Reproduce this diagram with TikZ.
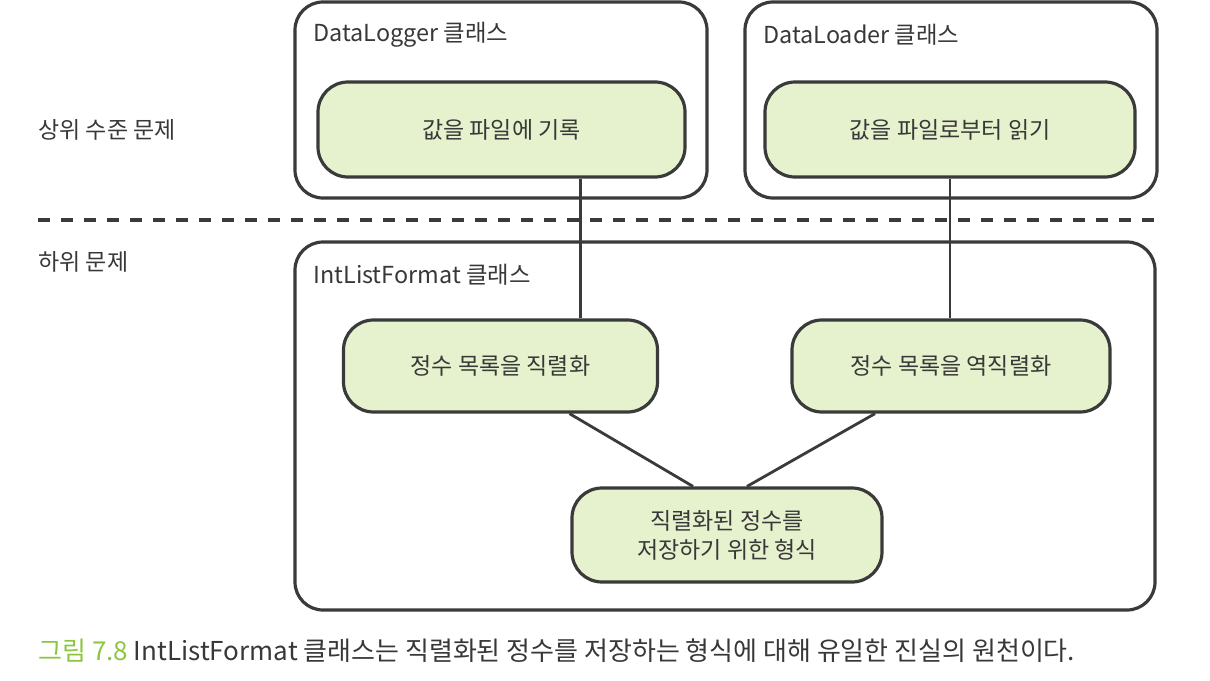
\documentclass[tikz,border=0pt]{standalone}
\usepackage{fontspec}
\setmainfont{Noto Sans CJK KR}
\usetikzlibrary{positioning}

\definecolor{linegray}{HTML}{3A3A3A}
\definecolor{textgray}{HTML}{383838}
\definecolor{boxgreen}{HTML}{E6F2CD}
\definecolor{capgreen}{HTML}{8CC63F}

\tikzset{
  classbox/.style={draw=linegray, line width=1.6pt, rounded corners=14pt},
  taskbox/.style={draw=linegray, line width=1.6pt, rounded corners=15pt, fill=boxgreen,
    text=textgray, align=center, font=\fontsize{11.5}{14.5}\selectfont},
  title/.style={anchor=west, text=textgray, font=\fontsize{11.7}{14}\selectfont, inner sep=0pt},
  link/.style={draw=linegray, line width=1.4pt}
}

\begin{document}
\begin{tikzpicture}[x=0.5pt, y=-0.5pt]

        \useasboundingbox (0,0) rectangle (1210,680);

        \begin{scope}[every node/.style={classbox}]
          \node[minimum width=206pt, minimum height=98pt]  (logger)  at (501,100) {};
          \node[minimum width=206pt, minimum height=98pt]  (loader)  at (951,100) {};
          \node[minimum width=430pt, minimum height=184pt] (intlist) at (725,426) {};
        \end{scope}

        \begin{scope}[every node/.style={taskbox}]
          \node[minimum width=183.5pt, minimum height=47.5pt] (write) at (501.5,129.5) {값을 파일에 기록};
          \node[minimum width=185pt, minimum height=47.5pt]   (read)  at (950,129.5)   {값을 파일로부터 읽기};
          \node[minimum width=157pt, minimum height=46pt]     (ser)   at (500.5,366)   {정수 목록을 직렬화};
          \node[minimum width=159pt, minimum height=46pt]     (deser) at (951,366)     {정수 목록을 역직렬화};
          \node[minimum width=155pt, minimum height=47pt]     (fmt)   at (727,535)     {직렬화된 정수를\\저장하기 위한 형식};
        \end{scope}

        \begin{scope}[every node/.style={title}]
          \node (loggertitle)  at (313,35)  {DataLogger 클래스};
          \node (loadertitle)  at (763,35)  {DataLoader 클래스};
          \node (intlisttitle) at (313,275) {IntListFormat 클래스};
          \node[font=\fontsize{11.5}{14}\selectfont] (upper) at (38,130) {상위 수준 문제};
          \node[font=\fontsize{11.5}{14}\selectfont] (lower) at (38,262) {하위 문제};
        \end{scope}

        % level separator
        \coordinate (sepl) at (38,220);
        \coordinate (sepr) at (1162,220);
        \draw[linegray, line width=1.7pt, dash pattern=on 6pt off 5.5pt] (sepl) -- (sepr);

        \path[link] ([xshift=39.5pt]write.south) -- ([xshift=39.5pt]write.south |- ser.north);
        \path[link] (read.south) -- (read.south |- deser.north);
        \path[link] ([xshift=34.5pt]ser.south) -- ([xshift=-17pt]fmt.north);
        \path[link] ([xshift=-38pt]deser.south) -- ([xshift=10pt]fmt.north);

        \node[anchor=west, inner sep=0pt, text=textgray, font=\fontsize{13}{15}\selectfont] (caption) at (38,651)
          {\textcolor{capgreen}{그림 7.8} IntListFormat 클래스는 직렬화된 정수를 저장하는 형식에 대해 유일한 진실의 원천이다.};

      \end{tikzpicture}
\end{document}
